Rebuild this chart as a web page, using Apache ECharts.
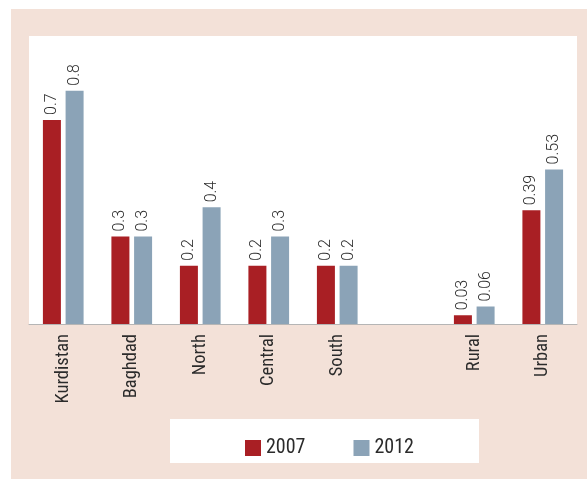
<!DOCTYPE html>
<html>
<head>
<meta charset="utf-8">
<script src="https://cdn.jsdelivr.net/npm/echarts@6/dist/echarts.min.js"></script>
<style>
  html, body { margin: 0; padding: 0; background: #ffffff; }
  #chart { width: 587px; height: 479px; }
</style>
</head>
<body>
<div id="chart"></div>
<script>
// Regions and area type; the blank entry keeps a gap between the two groups
const categories = ['Kurdistan', 'Baghdad', 'North', 'Central', 'South', '', 'Rural', 'Urban'];
const values2007 = [0.7, 0.3, 0.2, 0.2, 0.2, null, 0.03, 0.39];
const values2012 = [0.8, 0.3, 0.4, 0.3, 0.2, null, 0.06, 0.53];
const seriesNames = ['2007', '2012'];

const RED = '#a91f24';
const BLUE = '#8ba3b7';
const PANEL = '#f3e1d8';
const FONT = '"Roboto Condensed", "Liberation Sans Narrow", sans-serif';
const VALUE_FONT = 'Roboto, "Roboto Condensed", sans-serif';

const chart = echarts.init(document.getElementById('chart'), null, { renderer: 'canvas' });

const valueLabel = {
  show: true,
  position: 'top',
  rotate: 90,
  align: 'left',
  verticalAlign: 'middle',
  distance: 7,
  offset: [-2, 0],
  fontFamily: VALUE_FONT,
  fontWeight: 300,
  fontSize: 16,
  color: '#2e2e2e'
};

chart.setOption({
  backgroundColor: '#ffffff',
  animation: false,
  graphic: [
    { type: 'rect', z: -10, silent: true, shape: { x: 11, y: 9, width: 576, height: 470 }, style: { fill: PANEL } },
    { type: 'rect', z: -9, silent: true, shape: { x: 29, y: 36, width: 548, height: 288 }, style: { fill: '#ffffff' } },
    { type: 'rect', z: -9, silent: true, shape: { x: 170, y: 419, width: 309, height: 44 }, style: { fill: '#ffffff' } }
  ],
  legend: {
    data: seriesNames,
    left: 240,
    top: 433,
    itemWidth: 16,
    itemHeight: 16,
    itemGap: 48,
    icon: 'rect',
    textStyle: { fontFamily: FONT, fontSize: 20, color: '#2b2b2b' }
  },
  grid: {
    left: 29,
    width: 548,
    top: 32.4,
    height: 291.6,
    containLabel: false
  },
  xAxis: {
    type: 'category',
    data: categories,
    axisLine: { show: true, lineStyle: { color: '#b5b5b5', width: 1 } },
    axisTick: { show: false },
    axisLabel: {
      rotate: 90,
      margin: 10,
      interval: 0,
      fontFamily: FONT,
      fontSize: 18.5,
      color: '#2b2b2b'
    }
  },
  yAxis: {
    type: 'value',
    min: 0,
    max: 1,
    show: false,
    splitLine: { show: false }
  },
  series: [
    {
      name: seriesNames[0],
      type: 'bar',
      data: values2007,
      barWidth: 18,
      barGap: '26%',
      itemStyle: { color: RED },
      label: valueLabel
    },
    {
      name: seriesNames[1],
      type: 'bar',
      data: values2012,
      barWidth: 18,
      barGap: '26%',
      itemStyle: { color: BLUE },
      label: valueLabel
    }
  ]
});
</script>
</body>
</html>
